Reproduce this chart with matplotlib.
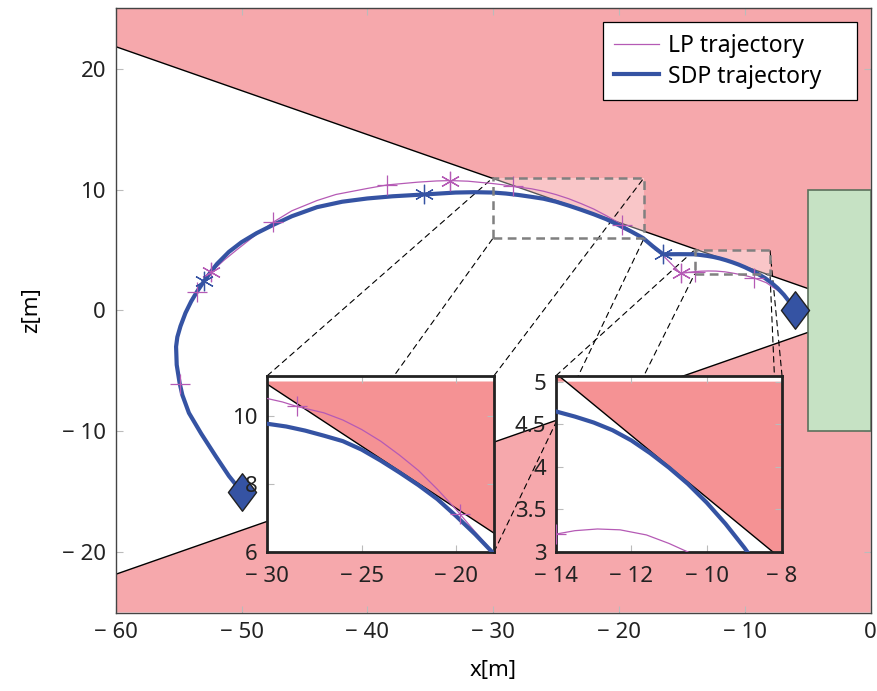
import numpy as np
import matplotlib
matplotlib.use('Agg')
import matplotlib.pyplot as plt
from matplotlib.patches import Polygon, Rectangle, ConnectionPatch
from matplotlib.path import Path

plt.rcParams['font.family'] = ['Noto Sans', 'DejaVu Sans']
plt.rcParams['font.size'] = 16

# SDP trajectory (x, z)
sdp_x = [-50.0, -51.0, -52.05, -53.2, -54.18, -54.7, -54.92, -55.15, -55.2, -55.1, -54.85, -54.45,
         -54.0, -53.54, -52.97, -52.4, -51.95, -51.0, -50.0, -48.8, -47.45, -46.0, -44.0, -42.0,
         -40.0, -38.0, -35.5, -33.0, -31.5, -30.0, -29.0, -28.0, -27.0, -26.0, -25.0, -24.0,
         -23.0, -22.0, -21.0, -20.0, -19.0, -18.1, -17.3, -16.5, -15.2, -14.0, -13.5, -13.0,
         -12.5, -12.0, -11.5, -11.0, -10.5, -10.0, -9.5, -9.0, -8.4, -7.9, -7.4, -6.9, -6.45, -6.0]
sdp_z = [-15.0, -13.7, -12.06, -10.2, -8.48, -7.0, -6.0, -4.5, -3.0, -2.2, -1.3, -0.2,
         0.75, 1.55, 2.44, 3.25, 3.85, 4.85, 5.65, 6.4, 7.1, 7.8, 8.55, 9.0,
         9.27, 9.45, 9.6, 9.76, 9.79, 9.76, 9.68, 9.56, 9.41, 9.25, 9.0, 8.68,
         8.33, 7.96, 7.55, 7.05, 6.52, 6.0, 5.3, 4.65, 4.66, 4.65, 4.59, 4.52,
         4.43, 4.31, 4.16, 3.99, 3.8, 3.58, 3.33, 3.05, 2.68, 2.3, 1.85, 1.3, 0.7, 0.0]
sdp_mark_x = [-52.97, -35.5, -16.5]
sdp_mark_z = [2.44, 9.6, 4.65]

# LP trajectory
lp_x = [-50.0, -51.0, -52.05, -53.2, -54.18, -54.7, -54.85, -55.1, -55.15, -55.05, -54.8, -54.4,
        -53.95, -53.54, -53.0, -52.4, -51.4, -50.4, -49.0, -47.5, -46.0, -44.0, -42.5, -41.0,
        -40.0, -38.43, -36.0, -34.5, -33.4, -32.0, -31.0, -30.0, -29.2, -28.45, -27.0, -26.0,
        -25.0, -24.0, -23.0, -22.0, -21.0, -20.0, -19.8, -19.0, -18.0, -16.5, -15.1, -14.5,
        -14.0, -13.5, -12.9, -12.3, -11.6, -11.0, -10.5, -9.9, -9.3, -8.3, -7.3, -6.6, -6.0]
lp_z = [-15.0, -13.7, -12.06, -10.2, -8.48, -7.0, -6.1, -4.5, -3.0, -2.2, -1.3, -0.2,
        0.75, 1.55, 2.35, 3.2, 4.15, 5.0, 6.15, 7.3, 8.25, 9.1, 9.6, 9.9,
        10.1, 10.39, 10.62, 10.72, 10.75, 10.7, 10.6, 10.5, 10.4, 10.27, 10.08, 9.87,
        9.59, 9.25, 8.84, 8.39, 7.84, 7.24, 7.11, 6.59, 5.96, 4.55, 3.07, 3.15,
        3.21, 3.25, 3.27, 3.26, 3.2, 3.1, 3.0, 2.87, 2.7, 2.3, 1.6, 0.9, 0.0]
lp_plus_x = [-54.85, -53.54, -47.5, -38.43, -28.45, -19.8, -14.0, -9.3]
lp_plus_z = [-6.1, 1.55, 7.3, 10.39, 10.27, 7.11, 3.21, 2.7]
lp_star_x = [-52.4, -33.4, -15.1]
lp_star_z = [3.2, 10.75, 3.07]

start = (-50, -15)
goal = (-6, 0)
cone_slope = np.tan(np.deg2rad(20))

red = '#f6a8ac'
red_in = '#f59294'
blue = '#3553a3'
mag = '#b55ab5'

diamond = Path([(0, 1), (0.75, 0), (0, -1), (-0.75, 0), (0, 1)],
               [Path.MOVETO, Path.LINETO, Path.LINETO, Path.LINETO, Path.CLOSEPOLY])


def minus_label(v):
    if v < 0:
        return '\u2212 ' + ('%g' % -v)
    return '%g' % v


def style_ticks(a, pad):
    a.tick_params(direction='in', top=True, right=True, length=5, width=0.8,
                  color='#bbbbbb', labelsize=16, labelcolor='#222222', pad=pad)


def draw_traj(a):
    l1, = a.plot(lp_x, lp_z, color=mag, lw=0.9, zorder=4)
    l2, = a.plot(sdp_x, sdp_z, color=blue, lw=3.0, zorder=5, solid_joinstyle='round')
    a.plot(lp_plus_x, lp_plus_z, ls='none', marker='+', ms=14, mew=0.9, color=mag, zorder=6)
    a.plot(lp_star_x, lp_star_z, ls='none', marker=(6, 2, 0), ms=14, mew=0.9, color=mag, zorder=6)
    a.plot(sdp_mark_x, sdp_mark_z, ls='none', marker=(6, 2, 0), ms=14, mew=0.9, color=blue, zorder=6)
    return l1, l2


fig = plt.figure(figsize=(8.77, 6.91), dpi=100)
ax = fig.add_axes([0.1319, 0.1136, 0.8609, 0.8742])
ax.set_xlim(-60, 0)
ax.set_ylim(-25, 25)

xs = np.array([-60, 0])
ax.add_patch(Polygon([(-60, 25), (-60, 60 * cone_slope), (0, 0), (0, 25)], closed=True,
                     facecolor=red, edgecolor='none', zorder=1))
ax.add_patch(Polygon([(-60, -25), (-60, -60 * cone_slope), (0, 0), (0, -25)], closed=True,
                     facecolor=red, edgecolor='none', zorder=1))
ax.plot(xs, -cone_slope * xs, color='black', lw=1.0, zorder=2)
ax.plot(xs, cone_slope * xs, color='black', lw=1.0, zorder=2)
ax.add_patch(Rectangle((-5, -10), 5, 20, facecolor='#c6e2c4', edgecolor='#5c705c', lw=1.2, zorder=3))

h_lp, h_sdp = draw_traj(ax)
ax.plot(*start, marker=diamond, ms=27, color=blue, mec='#222222', mew=1.0, zorder=7)
ax.plot(*goal, marker=diamond, ms=27, color=blue, mec='#222222', mew=1.0, zorder=7)

# zoom boxes
boxes = [(-30, -18, 6, 11), (-14, -8, 3, 5)]
for x0, x1, y0, y1 in boxes:
    ax.add_patch(Rectangle((x0, y0), x1 - x0, y1 - y0, facecolor='white', alpha=0.35,
                           edgecolor='none', zorder=3))
    ax.add_patch(Rectangle((x0, y0), x1 - x0, y1 - y0, facecolor='none', edgecolor='#808080',
                           lw=1.8, ls=(0, (3.5, 2.2)), zorder=8))

main_xt = [-60, -50, -40, -30, -20, -10, 0]
main_yt = [-20, -10, 0, 10, 20]
ax.set_xticks(main_xt)
ax.set_xticklabels([minus_label(v) for v in main_xt])
ax.set_yticks(main_yt)
ax.set_yticklabels([minus_label(v) for v in main_yt])
style_ticks(ax, 7)
for s in ax.spines.values():
    s.set_color('#444444')
    s.set_linewidth(1.0)
ax.set_xlabel('x[m]', fontsize=16, labelpad=12)
ax.set_ylabel('z[m]', fontsize=16, labelpad=14)

leg = ax.legend([h_lp, h_sdp], ['LP trajectory    ', 'SDP trajectory    '],
                loc='upper right', fontsize=16.5, frameon=True, fancybox=False, edgecolor='black',
                framealpha=1, borderaxespad=0.6, handlelength=1.95, handletextpad=0.4,
                borderpad=0.5, labelspacing=0.3)
leg.get_frame().set_linewidth(0.9)
leg.set_zorder(10)

# insets
inset_pos = [[0.3048, 0.2012, 0.2585, 0.2551], [0.634, 0.2012, 0.2577, 0.2551]]
inset_ylim = [(6, 11.17), (3, 5.07)]
inset_xt = [[-30, -25, -20], [-14, -12, -10, -8]]
inset_yt = [[6, 8, 10], [3, 3.5, 4, 4.5, 5]]
for (x0, x1, y0, y1), pos, yl, xt, yt in zip(boxes, inset_pos, inset_ylim, inset_xt, inset_yt):
    axin = fig.add_axes(pos)
    axin.set_facecolor('white')
    axin.set_xlim(x0, x1)
    axin.set_ylim(*yl)
    xx = np.array([x0, x1])
    yy = -cone_slope * xx
    axin.add_patch(Polygon([(x0, y1), (x0, yy[0]), (x1, yy[1]), (x1, y1)], closed=True,
                           facecolor=red_in, edgecolor='none', zorder=1))
    axin.plot(xx, yy, color='black', lw=1.0, zorder=2)
    draw_traj(axin)
    axin.set_xticks(xt)
    axin.set_xticklabels([minus_label(v) for v in xt])
    axin.set_yticks(yt)
    axin.set_yticklabels([minus_label(v) for v in yt])
    style_ticks(axin, 7)
    axin.tick_params(axis='x', pad=10)
    for s in axin.spines.values():
        s.set_color('#222222')
        s.set_linewidth(2.0)
    corners = [((0, 1), (x0, y1)), ((1, 1), (x1, y1)), ((0, 0), (x0, y0)), ((1, 0), (x1, y0))]
    for ca, cb in corners:
        con = ConnectionPatch(xyA=ca, coordsA=axin.transAxes, xyB=cb, coordsB=ax.transData,
                              color='black', lw=0.8, ls=(0, (5, 4)), zorder=3)
        ax.add_artist(con)

plt.savefig('out.png', dpi=100)
